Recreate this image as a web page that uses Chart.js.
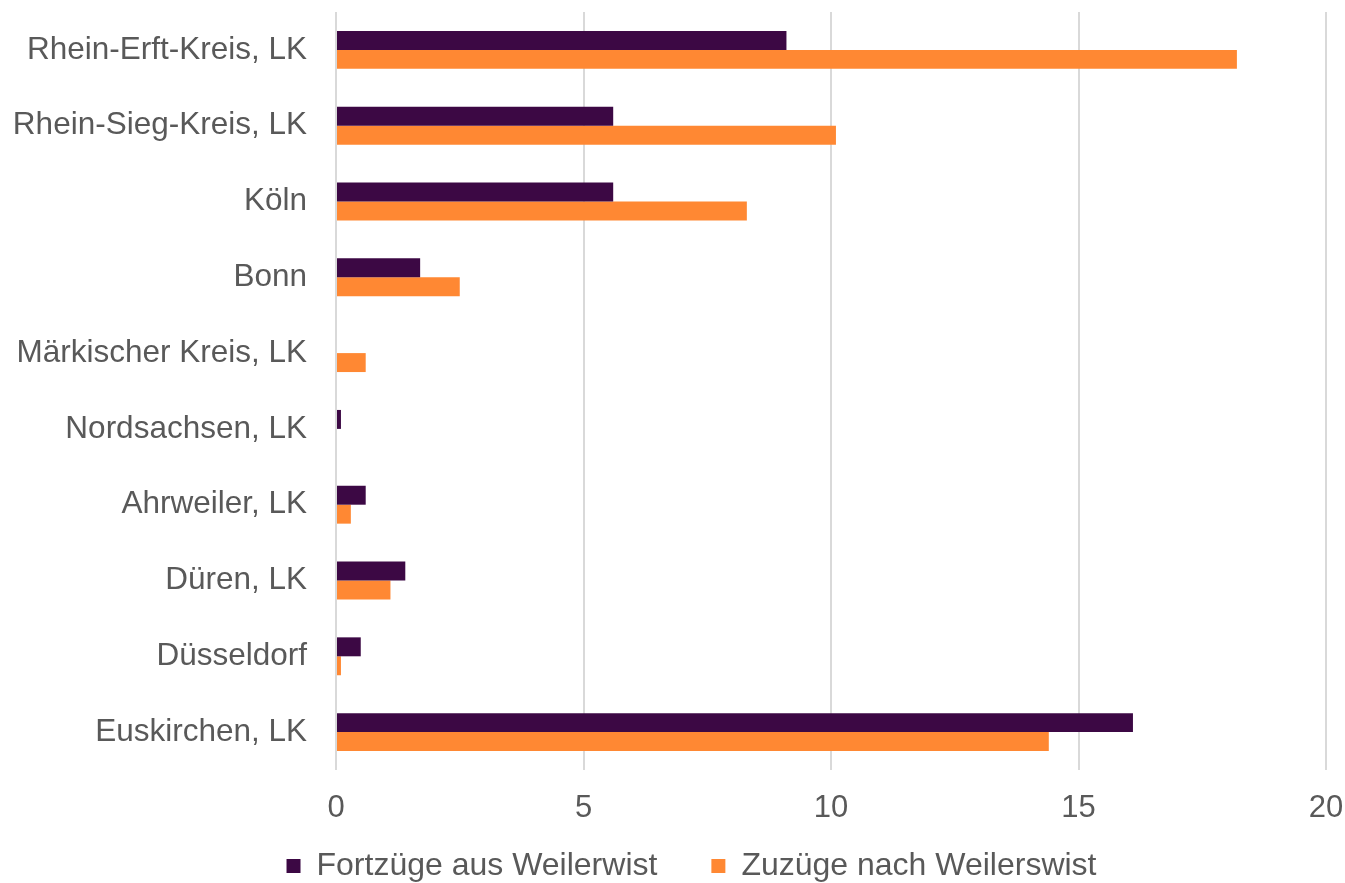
<!DOCTYPE html>
<html>
<head>
<meta charset="utf-8">
<script src="https://cdn.jsdelivr.net/npm/chart.js@4"></script>
<style>
html,body{margin:0;padding:0;background:#fff;}
#wrap{width:1345px;height:883px;position:relative;}
</style>
</head>
<body>
<div id="wrap"><canvas id="c"></canvas></div>
<script>
const categories = ["Rhein-Erft-Kreis, LK","Rhein-Sieg-Kreis, LK","Köln","Bonn","Märkischer Kreis, LK","Nordsachsen, LK","Ahrweiler, LK","Düren, LK","Düsseldorf","Euskirchen, LK"];
const fortzuege = [9.1, 5.6, 5.6, 1.7, 0, 0.1, 0.6, 1.4, 0.5, 16.1];
const zuzuege = [18.2, 10.1, 8.3, 2.5, 0.6, 0, 0.3, 1.1, 0.1, 14.4];
const seriesNames = ["Fortzüge aus Weilerwist","Zuzüge nach Weilerswist"];
const xTicks = [0, 5, 10, 15, 20];

const FONT = "'Liberation Sans', Arial, sans-serif";
const GREY = "#595959";
const LEFT_PAD = 38;
const AXIS_X = 336;

new Chart(document.getElementById('c'), {
  type: 'bar',
  data: {
    labels: categories,
    datasets: [
      {label: seriesNames[0], data: fortzuege, backgroundColor: '#3c0844', categoryPercentage: 0.5, barPercentage: 1.0},
      {label: seriesNames[1], data: zuzuege, backgroundColor: '#ff8833', categoryPercentage: 0.5, barPercentage: 1.0}
    ]
  },
  options: {
    indexAxis: 'y',
    responsive: true,
    maintainAspectRatio: false,
    animation: false,
    layout: {padding: {top: 12, right: 0, left: LEFT_PAD, bottom: -9}},
    plugins: {
      tooltip: {enabled: false},
      legend: {
        position: 'bottom',
        labels: {
          font: {family: FONT, size: 32},
          color: GREY,
          boxWidth: 14,
          boxHeight: 14,
          padding: 54
        }
      }
    },
    scales: {
      x: {
        min: 0, max: 20,
        afterBuildTicks: (s) => { s.ticks = xTicks.map(v => ({value: v})); },
        afterFit: (s) => {
          s.height = 26;
          s.paddingLeft = 0; s.paddingRight = 19;
          s._computeLabelArea = () => undefined;
        },
        grid: {color: '#d9d9d9', lineWidth: 2, drawTicks: false},
        border: {display: false},
        ticks: {font: {family: FONT, size: 31}, color: GREY, padding: 20}
      },
      y: {
        afterFit: (s) => {
          s.paddingTop = 0; s.paddingBottom = 0;
          s.width = AXIS_X - LEFT_PAD;
          s._computeLabelArea = () => undefined;
        },
        grid: {display: false, drawTicks: false},
        border: {display: false},
        ticks: {font: {family: FONT, size: 31.5}, color: GREY, padding: 29}
      }
    }
  }
});
</script>
</body>
</html>
